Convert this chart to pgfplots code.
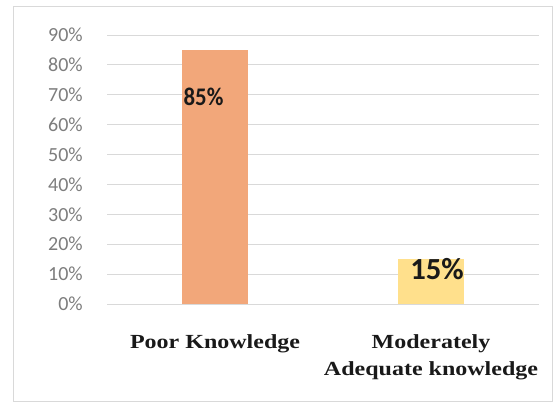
\documentclass[border=0pt]{standalone}
\usepackage{pgfplots}
\pgfplotsset{compat=1.18}
\usepackage{fontspec}
\setmainfont{Carlito}
\newfontfamily\xlab{Liberation Serif}[FakeStretch=1.2]
\newfontfamily\barlab{Carlito}[FakeStretch=0.9]
\newfontfamily\barlabB{Carlito}
\definecolor{bar1}{RGB}{242,167,122}
\definecolor{bar2}{RGB}{255,224,140}
\definecolor{gridc}{RGB}{217,217,217}
\definecolor{tickc}{RGB}{125,125,125}
\definecolor{framec}{RGB}{217,217,217}
\begin{document}
\begin{tikzpicture}
\path (0,0) rectangle (417pt,306pt);
\draw[framec, line width=0.75pt] (9.75pt,5.25pt) rectangle (414pt,300.75pt);
\begin{axis}[
  at={(80.25pt,78pt)}, anchor=south west,
  scale only axis, width=324pt, height=201.75pt,
  xmin=-0.5, xmax=1.5, ymin=0, ymax=90,
  axis line style={draw=none},
  ytick={0,10,20,30,40,50,60,70,80,90},
  yticklabels={0\%,10\%,20\%,30\%,40\%,50\%,60\%,70\%,80\%,90\%},
  yticklabel style={font=\fontsize{15}{15}\selectfont, text=tickc, anchor=east, inner sep=0pt, xshift=-18pt},
  ymajorgrids, major grid style={gridc, line width=0.75pt},
  major tick length=0pt,
  xtick={0,1},
  xticklabels={Poor Knowledge, {Moderately\\Adequate knowledge}},
  xticklabel style={font=\xlab\bfseries\fontsize{15}{20}\selectfont, align=center, anchor=north, inner sep=0pt, yshift=-23pt, text=black!90},
  clip=false,
]
\addplot[ybar, bar shift=0pt, bar width=49.5pt, fill=bar1, draw=none] coordinates {(0,85)};
\addplot[ybar, bar shift=0pt, bar width=49.5pt, fill=bar2, draw=none] coordinates {(1,15)};
\node[font=\barlab\bfseries\fontsize{19}{19}\selectfont, text=black!90, inner sep=0pt] at (axis cs:0,69.3) [xshift=-8.6pt] {85\%};
\node[font=\barlabB\bfseries\fontsize{23}{23}\selectfont, text=black!90, inner sep=0pt] at (axis cs:1,11.7) [xshift=4.5pt] {15\%};
\end{axis}
\end{tikzpicture}
\end{document}
